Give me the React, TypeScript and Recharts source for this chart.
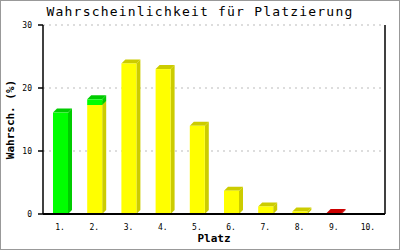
import React from 'react';
import { BarChart, Bar, XAxis, YAxis, CartesianGrid, Label } from 'recharts';

const places = ['1.', '2.', '3.', '4.', '5.', '6.', '7.', '8.', '9.', '10.'];
const greenValues = [16.1, 0.9, 0, 0, 0, 0, 0, 0, 0, 0];
const yellowValues = [0, 17.3, 23.9, 23.0, 14.0, 3.7, 1.2, 0.4, 0, 0];
const redValues = [0, 0, 0, 0, 0, 0, 0, 0, 0.15, 0];
const yTicks = [0, 10, 20, 30];

const data = places.map((p, i) => ({
  place: p,
  green: greenValues[i],
  yellow: yellowValues[i],
  red: redValues[i],
}));

const DEPTH = 4;

const make3d = (front: string, dark: string) => (props: any) => {
  const { x, y, width, height } = props;
  if (!height || height <= 0) return <g />;
  const d = DEPTH;
  const top = `${x},${y} ${x + d},${y - d} ${x + width + d},${y - d} ${x + width},${y}`;
  const side = `${x + width},${y} ${x + width + d},${y - d} ${x + width + d},${y + height - d} ${x + width},${y + height}`;
  return (
    <g>
      <polygon points={side} fill={dark} />
      <polygon points={top} fill={dark} />
      <rect x={x} y={y} width={width} height={height} fill={front} />
    </g>
  );
};

const mono = '"DejaVu Sans Mono", "Liberation Mono", monospace';

export default function App() {
  return (
    <div style={{ position: 'absolute', left: 0, top: 0, width: 400, height: 250, background: '#fff' }}>
      <div
        style={{
          position: 'absolute',
          left: 0,
          top: 4,
          width: 400,
          textAlign: 'center',
          fontFamily: mono,
          fontSize: 13,
          letterSpacing: 1.2,
          lineHeight: '16px',
          color: '#000',
        }}
      >
        Wahrscheinlichkeit für Platzierung
      </div>
      <BarChart
        width={400}
        height={250}
        data={data}
        margin={{ top: 25, right: 0, left: 0, bottom: 0 }}
        barCategoryGap={0}
        style={{ position: 'absolute', left: 0, top: 0 }}
      >
        <CartesianGrid
          vertical={false}
          horizontal
          stroke="#bbbbbb"
          strokeDasharray="2 4"
          yAxisId="left"
        />
        <XAxis
          dataKey="place"
          height={36}
          axisLine={{ stroke: '#000', strokeWidth: 2 }}
          tickLine={false}
          tick={{ fill: '#000', fontFamily: mono, fontSize: 8 }}
          tickMargin={4}
          interval={0}
        >
          <Label
            value="Platz"
            position="insideBottom"
            offset={8}
            style={{ fontFamily: mono, fontSize: 11, fontWeight: 'bold', fill: '#000' }}
          />
        </XAxis>
        <YAxis
          yAxisId="left"
          width={43}
          domain={[0, 30]}
          ticks={yTicks}
          axisLine={{ stroke: '#000', strokeWidth: 1.5 }}
          tickLine={{ stroke: '#000', strokeWidth: 1.5 }}
          tickSize={5}
          tickMargin={6}
          tick={{ fill: '#000', fontFamily: mono, fontSize: 8 }}
        >
          <Label
            value="Wahrsch. (%)"
            angle={-90}
            position="insideLeft"
            offset={10}
            style={{ textAnchor: 'middle', fontFamily: mono, fontSize: 11, fontWeight: 'bold', fill: '#000' }}
          />
        </YAxis>
        <YAxis
          yAxisId="right"
          orientation="right"
          width={15}
          domain={[0, 30]}
          tick={false}
          tickLine={false}
          axisLine={{ stroke: '#000', strokeWidth: 1.5 }}
        />
        <Bar dataKey="yellow" stackId="a" yAxisId="left" barSize={15} isAnimationActive={false} shape={make3d('#ffff00', '#cccc00')} />
        <Bar dataKey="green" stackId="a" yAxisId="left" barSize={15} isAnimationActive={false} shape={make3d('#00ff00', '#00cc00')} />
        <Bar dataKey="red" stackId="a" yAxisId="left" barSize={15} isAnimationActive={false} shape={make3d('#cc0000', '#cc0000')} />
      </BarChart>
      <div
        style={{
          position: 'absolute',
          left: 0,
          top: 0,
          width: 400,
          height: 250,
          boxSizing: 'border-box',
          border: '1px solid #999',
          pointerEvents: 'none',
        }}
      />
    </div>
  );
}
